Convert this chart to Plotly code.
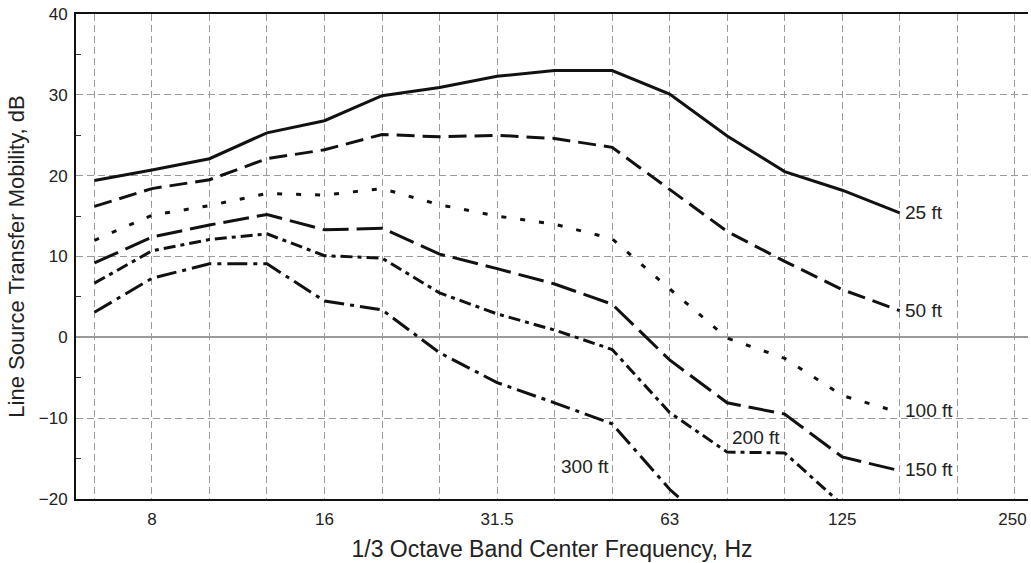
import plotly.graph_objects as go

# 1/3 octave band centre frequencies shown on the axis
bands = ["6.3", "8", "10", "12.5", "16", "20", "25", "31.5", "40", "50",
         "63", "80", "100", "125", "160", "200", "250"]
tick_labels = ["", "8", "", "", "16", "", "", "31.5", "", "", "63", "", "", "125", "", "", "250\u00a0"]

# Line source transfer mobility, dB
mob_25ft = [19.4, 20.7, 22.1, 25.3, 26.8, 29.9, 30.9, 32.3, 33.0, 33.0, 30.1, 24.9, 20.5, 18.2, 15.4]
mob_50ft = [16.2, 18.4, 19.5, 22.1, 23.2, 25.1, 24.8, 25.0, 24.6, 23.5, 18.3, 13.1, 9.4, 5.9, 3.3]
mob_100ft = [12.0, 15.1, 16.3, 17.8, 17.6, 18.4, 16.4, 15.0, 14.0, 12.2, 6.0, -0.1, -2.6, -7.2, -9.3]
mob_150ft = [9.2, 12.4, 13.9, 15.2, 13.3, 13.5, 10.3, 8.5, 6.6, 4.1, -2.8, -8.1, -9.5, -14.8, -16.5]
mob_200ft = [6.7, 10.7, 12.1, 12.8, 10.1, 9.8, 5.5, 2.9, 0.9, -1.5, -9.3, -14.2, -14.3, -20.7]
mob_300ft = [3.1, 7.3, 9.1, 9.1, 4.5, 3.4, -1.9, -5.6, -8.1, -10.7, -18.8, -25.0]

series_names = ["25 ft", "50 ft", "100 ft", "150 ft", "200 ft", "300 ft"]
series_values = [mob_25ft, mob_50ft, mob_100ft, mob_150ft, mob_200ft, mob_300ft]
dash_styles = ["solid", "18px,8px", "5px,14px", "26px,8px", "12px,5px,4px,5px", "20px,6px,4px,6px"]

FONT = "Liberation Sans, Arial, Helvetica, sans-serif"
band_pos = {b: i for i, b in enumerate(bands)}

fig = go.Figure()
for name, vals, dash in zip(series_names, series_values, dash_styles):
    fig.add_trace(go.Scatter(
        x=[band_pos[b] for b in bands[:len(vals)]], y=vals, mode="lines", name=name,
        line=dict(color="#111111", width=3, dash=dash),
        showlegend=False,
    ))

# curve labels
label_pos = {
    "25 ft": (14, 15.4, "left"),
    "50 ft": (14, 3.3, "left"),
    "100 ft": (14, -9.1, "left"),
    "150 ft": (14, -16.4, "left"),
    "200 ft": (11.5, -12.4, "center"),
    "300 ft": (8.53, -16.0, "center"),
}
for name in series_names:
    x, y, anc = label_pos[name]
    fig.add_annotation(x=x, y=y, text=name, showarrow=False, xanchor=anc, yanchor="middle",
                       xshift=3 if anc == "left" else 0,
                       font=dict(family=FONT, size=19, color="#222222"))

fig.update_layout(
    width=1031, height=563,
    margin=dict(l=76, r=0, t=14, b=64),
    paper_bgcolor="white", plot_bgcolor="white",
    font=dict(family=FONT, color="#222222"),
    xaxis=dict(
        range=[-0.32, 16.23],
        tickmode="array", tickvals=list(range(len(bands))), ticktext=tick_labels,
        showgrid=True, gridcolor="#9a9a9a", gridwidth=1, griddash="7px,4px",
        zeroline=False,
        showline=True, linecolor="#111111", linewidth=2, mirror=True,
        ticks="", ticklabelstandoff=4, ticklabeloverflow="allow",
        tickfont=dict(family=FONT, size=17, color="#222222"),
        title=dict(text="1/3 Octave Band Center Frequency, Hz", standoff=12,
                   font=dict(family=FONT, size=23, color="#222222")),
    ),
    yaxis=dict(
        range=[-20, 40],
        tickmode="array", tickvals=[-20, -10, 0, 10, 20, 30, 40],
        showgrid=True, gridcolor="#9a9a9a", gridwidth=1, griddash="7px,4px",
        zeroline=True, zerolinecolor="#9a9a9a", zerolinewidth=1.5,
        showline=True, linecolor="#111111", linewidth=2, mirror=False,
        ticks="", ticklabelstandoff=3, ticklabeloverflow="allow",
        minor=dict(ticks="inside", ticklen=5, tickwidth=1, tickcolor="#333333",
                   tickmode="linear", tick0=-15, dtick=10, showgrid=False),
        tickfont=dict(family=FONT, size=17, color="#222222"),
        title=dict(text="Line Source Transfer Mobility, dB", standoff=8,
                   font=dict(family=FONT, size=22, color="#222222")),
    ),
)

# remove the default page margin so the figure fills the window exactly
fig.write_html(
    "out.html",
    config={"displayModeBar": False},
    post_script="document.body.style.margin='0';document.body.style.overflow='hidden';",
)
